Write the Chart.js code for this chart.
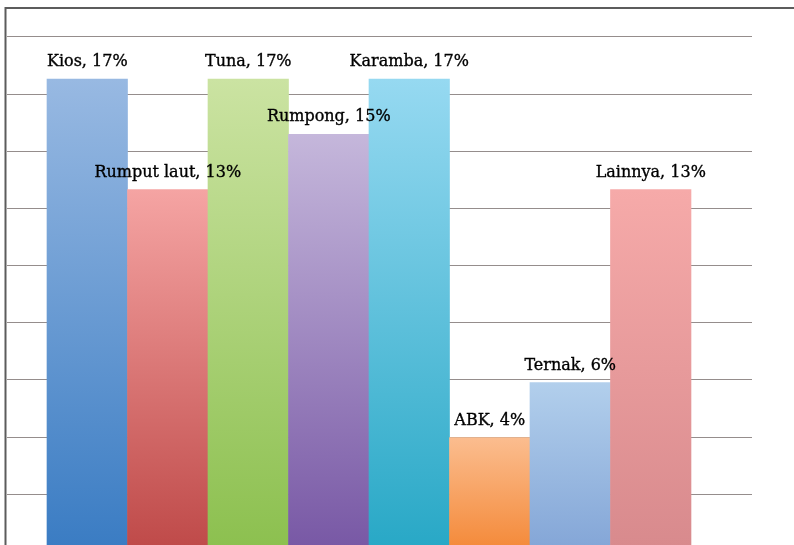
<!DOCTYPE html>
<html>
<head>
<meta charset="utf-8">
<title>Usaha</title>
<script src="https://cdn.jsdelivr.net/npm/chart.js@4.4.1/dist/chart.umd.min.js"></script>
<style>
  html, body { margin: 0; padding: 0; background: #fff; overflow: hidden; }
  #wrap { position: relative; width: 794px; height: 552px; }
</style>
</head>
<body>
<div id="wrap"><canvas id="myChart"></canvas></div>
<script>
// dati del grafico
const categories = ['Kios', 'Rumput laut', 'Tuna', 'Rumpong', 'Karamba', 'ABK', 'Ternak', 'Lainnya'];
const shares = [17, 13, 17, 15, 17, 4, 6, 13];

// colori sfumati: chiaro in alto, scuro in basso
const colorTop = ['#98b9e2', '#f5a4a3', '#cbe3a2', '#c5b7db', '#96d9f1', '#fbbd8f', '#b2cfec', '#f6aaa9'];
const colorBottom = ['#3a7cc3', '#bf4a49', '#8cc04f', '#7858a5', '#28a8c6', '#f48a3a', '#84a6d7', '#d88a8d'];

const yMax = 18.53;
const gridStep = 2.073;

// cornice del grafico
const framePlugin = {
  id: 'frame',
  beforeDraw(chart) {
    const ctx = chart.ctx;
    ctx.save();
    ctx.strokeStyle = '#5c5c5c';
    ctx.lineWidth = 2;
    ctx.beginPath();
    ctx.moveTo(5.5, chart.height);
    ctx.lineTo(5.5, 8);
    ctx.lineTo(chart.width, 8);
    ctx.stroke();
    ctx.restore();
  }
};

// etichette sopra le barre
const labelPlugin = {
  id: 'barLabels',
  afterDatasetsDraw(chart) {
    const ctx = chart.ctx;
    const meta = chart.getDatasetMeta(0);
    ctx.save();
    ctx.font = '16px "DejaVu Serif", serif';
    ctx.fillStyle = '#000';
    ctx.strokeStyle = '#000';
    ctx.lineWidth = 0.35;
    ctx.textAlign = 'center';
    ctx.textBaseline = 'alphabetic';
    meta.data.forEach((bar, i) => {
      const txt = categories[i] + ', ' + shares[i] + '%';
      ctx.fillText(txt, bar.x, bar.y - 13);
      ctx.strokeText(txt, bar.x, bar.y - 13);
    });
    ctx.restore();
  }
};

// sfumatura verticale per ogni barra, dalla cima allo zero
function barGradient(c) {
  const i = c.dataIndex;
  if (i === undefined) return colorBottom[0];
  const y = c.chart.scales.y;
  if (!y) return colorBottom[i];
  const top = y.getPixelForValue(shares[i]);
  const base = y.getPixelForValue(0);
  if (!isFinite(top) || !isFinite(base) || top === base) return colorBottom[i];
  const g = c.chart.ctx.createLinearGradient(0, top, 0, base);
  g.addColorStop(0, colorTop[i]);
  g.addColorStop(1, colorBottom[i]);
  return g;
}

const data = {
  datasets: [{
    data: shares.map((v, i) => ({ x: i, y: v })),
    backgroundColor: barGradient,
    borderWidth: 0,
    barPercentage: 1,
    categoryPercentage: 1
  }]
};

const config = {
  type: 'bar',
  data: data,
  plugins: [framePlugin, labelPlugin],
  options: {
    responsive: true,
    maintainAspectRatio: false,
    animation: false,
    layout: { padding: { left: 7, right: 42, top: 37, bottom: 4 } },
    plugins: {
      legend: { display: false },
      tooltip: { enabled: false }
    },
    scales: {
      x: {
        type: 'linear',
        min: -0.997,
        max: 8.258,
        offset: false,
        display: false,
        afterBuildTicks: (axis) => { axis.ticks = categories.map((c, i) => ({ value: i })); }
      },
      y: {
        min: 0,
        max: yMax,
        display: true,
        border: { display: false },
        ticks: { display: false },
        grid: { color: '#958d8c', lineWidth: 1.1, drawTicks: false },
        afterBuildTicks: (axis) => {
          const t = [];
          for (let k = 0; k < 10; k++) t.push({ value: yMax - k * gridStep });
          axis.ticks = t;
        }
      }
    }
  }
};

const myChart = new Chart(document.getElementById('myChart'), config);
</script>
</body>
</html>
